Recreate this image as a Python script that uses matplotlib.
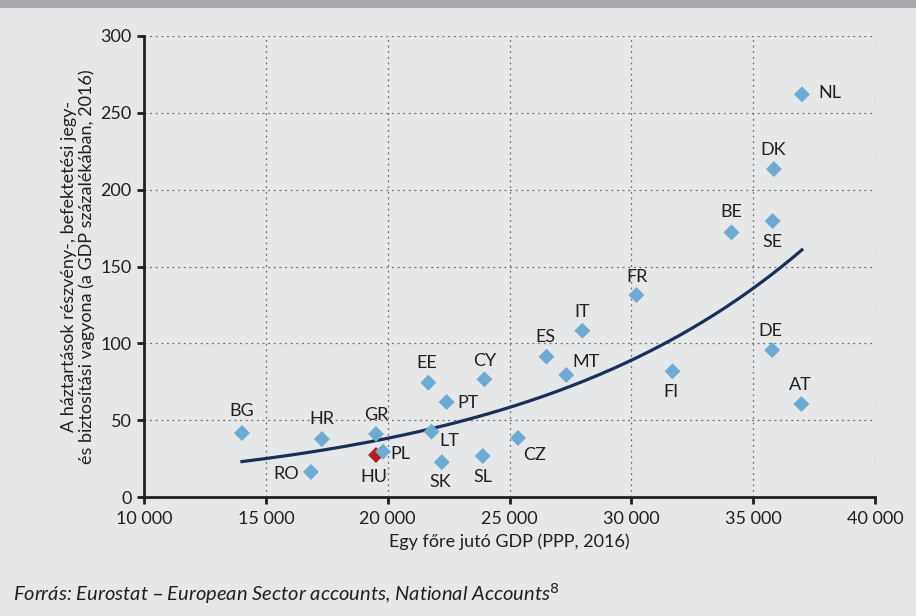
import matplotlib
matplotlib.use("Agg")
import matplotlib.pyplot as plt
import matplotlib.ticker as mticker
from matplotlib.patches import Rectangle
import numpy as np

plt.rcParams['font.family'] = ['Lato', 'DejaVu Sans']

# országkódok, egy főre jutó GDP (PPP), háztartási vagyon (% GDP)
countries = ['BG', 'RO', 'HR', 'GR', 'HU', 'PL', 'LT', 'SK', 'EE', 'PT', 'SL', 'CY',
             'CZ', 'ES', 'MT', 'IT', 'FR', 'FI', 'BE', 'DE', 'SE', 'DK', 'AT', 'NL']
gdp = [14020, 16850, 17300, 19520, 19520, 19810, 21800, 22220, 21670, 22420, 23900, 23970,
       25350, 26520, 27330, 27990, 30210, 31690, 34110, 35780, 35800, 35850, 36980, 37000]
wealth = [41.6, 16.3, 37.7, 41.0, 27.3, 29.5, 42.5, 22.6, 74.4, 61.8, 26.7, 76.6,
          38.4, 91.3, 79.4, 108.2, 131.4, 81.8, 172.2, 95.6, 179.6, 213.4, 60.5, 262.0]
# címke eltolása pixelben
offsets = {'BG': (0, 22), 'RO': (-25, -2), 'HR': (0, 20), 'GR': (0, 19), 'HU': (-2, -22),
           'PL': (17, -2), 'LT': (18, -9), 'SK': (-2, -20), 'EE': (-2, 20), 'PT': (21, -1),
           'SL': (0, -21), 'CY': (0, 18), 'CZ': (17, -17), 'ES': (-1, 20), 'MT': (20, 13),
           'IT': (0, 19), 'FR': (1, 18), 'FI': (-2, -21), 'BE': (0, 20), 'DE': (-2, 19),
           'SE': (0, -21), 'DK': (-1, 19), 'AT': (-1, 19), 'NL': (28, 1)}

bg = '#e6e7e8'
txt = '#231f20'
blue = '#6faad2'
red = '#b0201f'

fig = plt.figure(figsize=(9.16, 6.16), dpi=100, facecolor=bg)
fig.patches.append(Rectangle((0, 1 - 8 / 616), 1, 8 / 616, transform=fig.transFigure,
                             facecolor='#a7a8ac', edgecolor='none'))
ax = fig.add_axes([144 / 916, 1 - 497 / 616, 731 / 916, 461 / 616])
ax.set_facecolor(bg)

x = np.array(gdp, dtype=float)
y = np.array(wealth, dtype=float)
colors = [red if c == 'HU' else blue for c in countries]
ax.scatter(x, y, marker='D', s=66, c=colors, edgecolors='none', zorder=3)

# exponenciális trend
b, a = np.polyfit(x, np.log(y), 1)
xs = np.linspace(x.min(), x.max(), 200)
ax.plot(xs, np.exp(a + b * xs), color='#1b2f5c', lw=2.3, zorder=2)

for c, xi, yi in zip(countries, x, y):
    dx, dy = offsets[c]
    ax.annotate(c, (xi, yi), xytext=(dx, dy), textcoords='offset pixels',
                ha='center', va='center', fontsize=13, color=txt, zorder=4)

ax.set_xlim(10000, 40000)
ax.set_ylim(0, 300)
ax.set_xticks(np.arange(10000, 40001, 5000))
ax.set_yticks(np.arange(0, 301, 50))
ax.xaxis.set_major_formatter(mticker.FuncFormatter(lambda v, p: f'{int(v):,}'.replace(',', ' ')))
ax.grid(True, linestyle=(0, (1.5, 3)), color='#6d6e71', lw=0.9)
ax.set_axisbelow(True)
for s in ['top', 'right']:
    ax.spines[s].set_visible(False)
for s in ['left', 'bottom']:
    ax.spines[s].set_color(txt)
    ax.spines[s].set_linewidth(2.0)
ax.tick_params(axis='both', direction='out', length=5, width=2.0, color=txt,
               labelsize=13, labelcolor=txt)
ax.tick_params(axis='x', pad=5)
ax.tick_params(axis='y', pad=4)

ax.set_xlabel('Egy főre jutó GDP (PPP, 2016)', fontsize=13, color=txt, labelpad=5)
ax.set_ylabel('A háztartások részvény-, befektetési jegy-\nés biztosítási vagyona (a GDP százalékában, 2016)',
              fontsize=13, color=txt, labelpad=4, linespacing=1.05)

fig.text(13 / 916, 1 - 594 / 616,
         'Forrás: Eurostat – European Sector accounts, National Accounts$^{\\mathit{8}}$',
         fontsize=14.5, style='italic', color=txt, va='center', ha='left')

fig.savefig('out.png', dpi=100, facecolor=bg)
